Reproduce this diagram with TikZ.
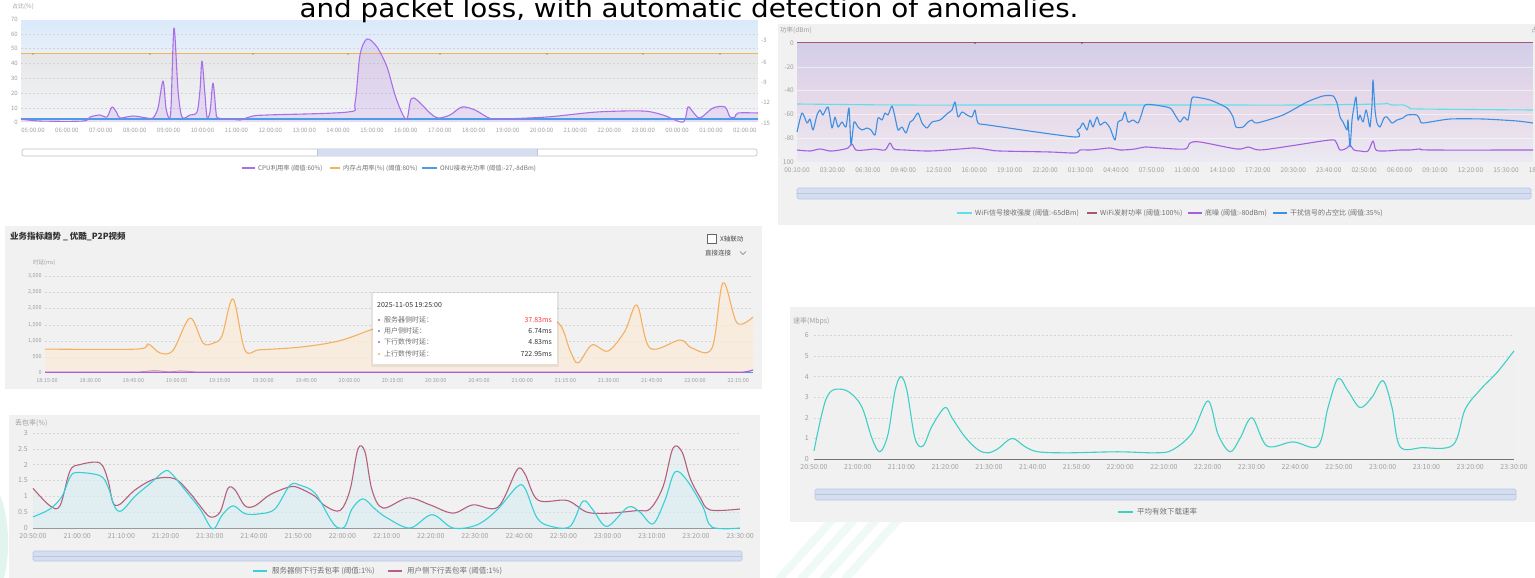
\documentclass[tikz,border=0pt]{standalone}
\usepackage{graphicx}
\usepackage{fontspec}
\setmainfont{Noto Sans CJK SC}
\newfontfamily\titlefont{DejaVu Sans}
\definecolor{axgray}{HTML}{A0A0A0}
\definecolor{leggray}{HTML}{707070}
\definecolor{panelbg}{HTML}{F1F1F1}
\definecolor{gridc}{HTML}{D4D4D4}
\definecolor{cpu}{HTML}{A96FE8}
\definecolor{mem}{HTML}{F2B25E}
\definecolor{onu}{HTML}{4B9DE6}
\definecolor{wcyan}{HTML}{5CE1EC}
\definecolor{wmaroon}{HTML}{A8566E}
\definecolor{wpurple}{HTML}{A35FE0}
\definecolor{wblue}{HTML}{3C8FE2}
\definecolor{lat}{HTML}{F4B062}
\definecolor{pcyan}{HTML}{39CFD8}
\definecolor{pmaroon}{HTML}{B5607F}
\definecolor{scyan}{HTML}{3ECFC5}
\definecolor{scroll}{HTML}{D5DEF1}
\definecolor{scrollb}{HTML}{B9C6E0}
\definecolor{mint}{HTML}{CDEFE3}
\definecolor{txtdark}{HTML}{333333}
\definecolor{bluetop}{HTML}{DAEAFA}
\definecolor{bluebot}{HTML}{E7EFF8}
\definecolor{graytop}{HTML}{E7E7E8}
\definecolor{graybot}{HTML}{F2F4F7}
\definecolor{lavtop}{HTML}{D3CEE9}
\definecolor{lavmid}{HTML}{E7D9E8}
\definecolor{lavbot}{HTML}{EBE9F2}
\begin{document}
\begin{tikzpicture}[x=1pt,y=-1pt,
  ax/.style={font=\fontsize{6}{7}\selectfont,text=axgray,inner sep=0pt},
  axm/.style={font=\fontsize{6.5}{7.5}\selectfont,text=axgray,inner sep=0pt},
  axb/.style={font=\fontsize{7}{8}\selectfont,text=axgray,inner sep=0pt},
  axs/.style={font=\fontsize{5.5}{6.5}\selectfont,text=axgray,inner sep=0pt},
  leg/.style={font=\fontsize{6.3}{7}\selectfont,text=leggray,inner sep=0pt,anchor=west},
  legb/.style={font=\fontsize{7}{8}\selectfont,text=leggray,inner sep=0pt,anchor=west},
  legc/.style={font=\fontsize{7.5}{8.5}\selectfont,text=leggray,inner sep=0pt,anchor=west},
  gridl/.style={draw=gridc,line width=0.4pt,dash pattern=on 2pt off 2pt},
  sbar/.style={draw=scrollb,fill=scroll,line width=0.6pt,rounded corners=1.5pt},
  curve/.style={line width=1.1pt,line join=round},
  tip/.style={font=\fontsize{7}{8}\selectfont,inner sep=0pt},
]
\useasboundingbox (0,0) rectangle (1535,578);
\fill[white] (0,0) rectangle (1535,578);

% ---------- watermark ----------
\fill[mint,opacity=0.6] (0,495) .. controls (10,520) and (10,555) .. (4,578) -- (0,578) -- cycle;
\foreach \dx in {0,22,44,66}
  \draw[mint,opacity=0.3,line width=8pt,line cap=round] ({780+\dx},578) -- ({850+\dx},500);

% ---------- panel 1 ----------
\foreach \i in {0,...,16}{
  \pgfmathsetmacro\p{100-\i*6.25}
  \fill[bluetop!\p!bluebot] (21,{20+\i*2}) rectangle (758,{22.4+\i*2});
}
\foreach \i in {0,...,16}{
  \pgfmathsetmacro\p{100-\i*6.25}
  \fill[graytop!\p!graybot] (21,{54+\i*4}) rectangle (758,{58.4+\i*4});
}
\foreach \yy in {34,48,63,78,93,108} \draw[gridl] (21,\yy) -- (758,\yy);
\node[ax,anchor=west] (p1lab) at (12,7) {占比(\%)};
\foreach \v/\yy [count=\i] in {70/19,60/34,50/48,40/63,30/78,20/93,10/108,0/122}
  \node[ax,anchor=east] (p1y\i) at (18,\yy) {\v};
\foreach \v/\yy [count=\i] in {-3/40,-6/62,-9/82,-12/102,-15/123}
  \node[ax,anchor=west] (p1r\i) at (761,\yy) {\v};
\foreach \t [count=\i from 0] in {05,06,07,08,09,10,11,12,13,14,15,16,17,18,19,20,21,22,23,00,01,02}
  \node[ax] (p1x\i) at ({33+33.9*\i},130) {\t:00:00};
\fill[cpu,opacity=0.18] plot[smooth,tension=0.5] coordinates {(21,119) (40,121) (83,121) (90,117) (100,115) (107,117) (112,107) (117,113) (120,118) (133,116) (147,118) (153,118) (158,108) (163,81) (166,108) (169,118) (171,108) (174,28) (178,90) (182,117) (190,115) (197,112) (200,90) (202,61) (205,95) (207,117) (210,112) (213,83) (216,112) (218,118) (233,119) (240,120) (253,116) (267,115) (348,112) (355,103) (360,55) (367,39) (377,47) (387,67) (395,95) (402,113) (407,119) (411,99) (417,100) (430,113) (438,118) (450,115) (462,107) (475,110) (487,117) (497,119) (547,117) (597,112) (643,111) (663,115) (683,122) (688,107) (693,112) (700,118) (713,108) (725,107) (730,117) (735,117) (738,113) (758,113)} -- (758,122) -- (21,122) -- cycle;
\draw[mem,line width=1pt] (21,54) -- (758,54);
\foreach \xx in {33,150,253,348,440,547,643,720} \fill[mem!80!black] (\xx,54) circle (0.8);
\draw[onu,line width=1.2pt] (21,119) -- (758,119);
\draw[cpu,curve] plot[smooth,tension=0.5] coordinates {(21,119) (40,121) (83,121) (90,117) (100,115) (107,117) (112,107) (117,113) (120,118) (133,116) (147,118) (153,118) (158,108) (163,81) (166,108) (169,118) (171,108) (174,28) (178,90) (182,117) (190,115) (197,112) (200,90) (202,61) (205,95) (207,117) (210,112) (213,83) (216,112) (218,118) (233,119) (240,120) (253,116) (267,115) (348,112) (355,103) (360,55) (367,39) (377,47) (387,67) (395,95) (402,113) (407,119) (411,99) (417,100) (430,113) (438,118) (450,115) (462,107) (475,110) (487,117) (497,119) (547,117) (597,112) (643,111) (663,115) (683,122) (688,107) (693,112) (700,118) (713,108) (725,107) (730,117) (735,117) (738,113) (758,113)};
\draw[draw=black!25,fill=white,rounded corners=2pt,line width=0.6pt] (22,149) rectangle (757,156);
\fill[scroll] (317,149.4) rectangle (537,155.6);
\draw[scrollb,line width=0.6pt] (317,149.4) -- (317,155.6) (537,149.4) -- (537,155.6);
\draw[cpu,line width=1.2pt] (242,168) -- (255,168);
\node[leg] (p1l1) at (258,168) {CPU利用率 (阈值:60\%)};
\draw[mem,line width=1.2pt] (330,168) -- (340,168);
\node[leg] (p1l2) at (343,168) {内存占用率(\%) (阈值:80\%)};
\draw[onu,line width=1.2pt] (422,168) -- (437,168);
\node[leg] (p1l3) at (440,168) {ONU接收光功率 (阈值:-27,-8dBm)};

% ---------- panel 2 ----------
\fill[panelbg] (778,24) rectangle (1535,225);
\foreach \i in {0,...,19}{
  \pgfmathsetmacro\p{100-\i*5.26}
  \fill[lavtop!\p!lavmid] (797,{43+\i*3.1}) rectangle (1533,{46.4+\i*3.1});
}
\foreach \i in {0,...,18}{
  \pgfmathsetmacro\p{100-\i*5.55}
  \fill[lavmid!\p!lavbot] (797,{105+\i*3}) rectangle (1533,{108.3+\i*3});
}
\foreach \yy in {67,90,114,138} \draw[white,opacity=0.5,line width=0.5pt] (797,\yy) -- (1533,\yy);
\node[axm,anchor=west] (p2lab) at (780,30) {功率(dBm)};
\node[axm,anchor=west] (p2rlab) at (1531,30) {占空比(\%)};
\foreach \v/\yy [count=\i] in {0/43,-20/67,-40/90,-60/114,-80/138,100/162}
  \node[axm,anchor=east] (p2y\i) at (794,\yy) {\v};
\foreach \t [count=\i from 0] in {00:10,03:20,06:30,09:40,12:50,16:00,19:10,22:20,01:30,04:40,07:50,11:00,14:10,17:20,20:30,23:40,02:50,06:00,09:10,12:20,15:30,18:40}
  \node[axm] (p2x\i) at ({797+35.45*\i},170) {\t:00};
\draw[wmaroon,line width=1pt] (797,43) -- (1533,43);
\foreach \xx in {975,1082} \fill[wmaroon!70!black] (\xx,43) circle (0.8);
\draw[wcyan,curve] plot[smooth,tension=0.5] coordinates {(797,104) (900,105) (1000,105) (1100,105) (1200,105) (1300,105) (1380,104) (1386,103) (1392,105) (1404,105) (1410,108) (1420,109) (1533,110)};
\draw[wpurple,curve] plot[smooth,tension=0.5] coordinates {(797,150) (810,151) (820,149) (830,151) (840,150) (848,148) (852,144) (856,150) (865,150) (875,149) (885,150) (890,143) (894,149) (905,150) (930,151) (960,149) (975,148) (990,150) (1000,151) (1050,152) (1075,153) (1080,150) (1090,150) (1100,149) (1110,148) (1120,150) (1135,149) (1145,147) (1160,148) (1185,149) (1190,143) (1200,142) (1237,149) (1248,147) (1260,150) (1290,146) (1330,140) (1336,142) (1340,150) (1347,148) (1350,145) (1354,150) (1360,151) (1368,151) (1373,141) (1376,150) (1385,151) (1400,150) (1410,150) (1420,149) (1430,150) (1533,150)};
\draw[wblue,curve] plot[smooth,tension=0.4] coordinates {(797,132) (802,113) (807,123) (810,119) (813,130) (817,115) (820,110) (823,115) (828,107) (832,128) (835,117) (838,127) (842,122) (846,127) (849,108) (851,145) (854,122) (858,127) (862,130) (867,128) (871,130) (875,135) (878,118) (882,120) (885,113) (888,115) (892,106) (895,117) (898,130) (902,127) (906,133) (910,122) (913,120) (918,113) (922,123) (927,128) (932,122) (940,120) (948,113) (952,110) (955,102) (958,117) (962,112) (967,115) (972,117) (975,110) (978,123) (988,125) (1075,137) (1077,130) (1080,128) (1083,123) (1087,130) (1090,120) (1093,127) (1097,117) (1100,125) (1105,122) (1110,128) (1115,140) (1118,122) (1122,120) (1125,112) (1128,122) (1133,120) (1138,123) (1141,116) (1145,105) (1155,105) (1170,108) (1175,115) (1180,122) (1184,117) (1188,120) (1191,103) (1193,97) (1210,100) (1227,108) (1233,117) (1236,127) (1243,127) (1248,122) (1252,120) (1257,123) (1283,115) (1307,102) (1323,96) (1333,96) (1337,103) (1340,117) (1343,122) (1347,130) (1348,120) (1350,147) (1352,120) (1354,107) (1356,97) (1358,120) (1360,115) (1363,122) (1366,110) (1368,118) (1370,127) (1372,105) (1373,80) (1375,110) (1377,123) (1380,127) (1384,118) (1387,117) (1392,123) (1397,120) (1403,118) (1407,115) (1417,115) (1420,120) (1423,123) (1450,119) (1483,119) (1517,121) (1533,123)};
\draw[sbar] (797,188) rectangle (1531,199);
\draw[scrollb,line width=0.4pt] (797,193.5) -- (1531,193.5);
\draw[wcyan,line width=1.2pt] (957,213) -- (972,213);
\node[legb] (p2l1) at (975,213) {WiFi信号接收强度 (阈值:-65dBm)};
\draw[wmaroon,line width=1.2pt] (1087,213) -- (1097,213);
\node[legb] (p2l2) at (1100,213) {WiFi发射功率 (阈值:100\%)};
\draw[wpurple,line width=1.2pt] (1188,213) -- (1202,213);
\node[legb] (p2l3) at (1205,213) {底噪 (阈值:-80dBm)};
\draw[wblue,line width=1.2pt] (1273,213) -- (1287,213);
\node[legb] (p2l4) at (1290,213) {干扰信号的占空比 (阈值:35\%)};

% ---------- panel 3 ----------
\fill[panelbg] (5,226) rectangle (762,389);
\node[font=\fontsize{8.5}{10}\selectfont\bfseries,text=txtdark,anchor=west,inner sep=0pt] (p3title) at (10,237) {业务指标趋势 \_ 优酷\_P2P视频};
\draw[black!60,fill=white,line width=0.6pt] (707,234) rectangle (716,243);
\node[font=\fontsize{6.5}{7.5}\selectfont,text=black!70,anchor=west,inner sep=0pt] (p3chk) at (720,239) {X轴联动};
\node[font=\fontsize{6.5}{7.5}\selectfont,text=black!70,anchor=west,inner sep=0pt] (p3conn) at (705,253) {直接连接};
\draw[black!55,line width=0.5pt] (740,251.5) -- (743,254.5) -- (746,251.5);
\node[axs,anchor=west] (p3lab) at (33,263) {时延(ms)};
\foreach \v/\yy [count=\i] in {{3,000}/276,{2,500}/292,{2,000}/308,{1,500}/325,{1,000}/341,500/357,0/373}
  \node[axs,anchor=east] (p3y\i) at (42,\yy) {\v};
\foreach \yy in {276,292,308,325,341,357} \draw[gridl] (45,\yy) -- (753,\yy);
\foreach \t [count=\i from 0] in {18:15,18:30,18:45,19:00,19:15,19:30,19:45,20:00,20:15,20:30,20:45,21:00,21:15,21:30,21:45,22:00,22:15}
  \node[axs] (p3x\i) at ({47+43.2*\i},381) {\t:00};
\begin{scope}[shift={(0,373)},y=0.03233pt]
\fill[lat!25!white,opacity=0.7] plot[smooth,tension=0.55] coordinates {(45,740) (137,740) (148,900) (160,620) (173,700) (190,1700) (203,930) (213,920) (222,1150) (233,2290) (245,710) (260,720) (300,800) (340,1000) (380,1420) (420,1600) (470,1750) (520,1650) (557,1580) (570,700) (578,310) (592,870) (608,680) (625,1300) (637,2100) (650,770) (680,1020) (692,770) (712,770) (723,2790) (737,1550) (753,1730)} -- (753,0) -- (45,0) -- cycle;
\draw[lat,curve] plot[smooth,tension=0.55] coordinates {(45,740) (137,740) (148,900) (160,620) (173,700) (190,1700) (203,930) (213,920) (222,1150) (233,2290) (245,710) (260,720) (300,800) (340,1000) (380,1420) (420,1600) (470,1750) (520,1650) (557,1580) (570,700) (578,310) (592,870) (608,680) (625,1300) (637,2100) (650,770) (680,1020) (692,770) (712,770) (723,2790) (737,1550) (753,1730)};
\end{scope}
\draw[pmaroon!60,line width=0.8pt] plot[smooth] coordinates {(140,372) (155,370.5) (170,372) (180,370.8) (195,372)};
\draw[onu,line width=1pt] (45,372.8) -- (753,372.8);
\draw[wpurple,line width=1.2pt] (45,372.3) -- (742,372.3) -- (748,371.5) -- (753,370);
% tooltip
\fill[black,opacity=0.06] (371,292) rectangle (559,367);
\fill[white] (373,293) rectangle (557,364);
\node[tip,text=txtdark,anchor=west] (tiphead) at (377,305) {2025-11-05 19:25:00};
\foreach \c/\lab/\val/\vc/\yy [count=\i] in {pmaroon/服务器侧时延：/37.83ms/red!70!pink/320,wblue/用户侧时延：/6.74ms/txtdark/331,wpurple/下行数传时延：/4.83ms/txtdark/342,lat/上行数传时延：/722.95ms/txtdark/354}{
  \fill[\c] (379,\yy) circle (1.2);
  \node[tip,text=black!55,anchor=west] (tipl\i) at (384,\yy) {\lab};
  \node[tip,text=\vc,anchor=east] (tipv\i) at (552,\yy) {\val};
}

% ---------- panel 4 ----------
\fill[panelbg] (9,415) rectangle (760,578);
\node[axb,anchor=west] (p4lab) at (15,423) {丢包率(\%)};
\foreach \v [count=\i from 0] in {0,0.5,1,1.5,2,2.5,3}
  \node[axb,anchor=east] (p4y\i) at (28,{528-31.7*\v}) {\v};
\foreach \v in {0.5,1,1.5,2,2.5,3} \draw[gridl] (33,{528-31.7*\v}) -- (740,{528-31.7*\v});
\foreach \t [count=\i from 0] in {20:50,21:00,21:10,21:20,21:30,21:40,21:50,22:00,22:10,22:20,22:30,22:40,22:50,23:00,23:10,23:20,23:30}
  \node[axb] (p4x\i) at ({33+44.2*\i},536) {\t:00};
\begin{scope}[shift={(0,528)},y=31.7pt]
\fill[black!30!cyan!15!white,opacity=0.45] plot[smooth,tension=0.55] coordinates {(33,1.25) (50,0.7) (60,0.7) (70,1.8) (80,2.0) (100,2.05) (108,1.5) (113,0.8) (120,0.75) (135,1.2) (155,1.55) (175,1.55) (190,1.1) (200,0.7) (210,0.35) (220,0.5) (228,1.25) (235,1.2) (245,0.7) (255,0.7) (270,1.05) (290,1.3) (300,1.25) (315,1.0) (325,0.7) (340,0.55) (350,1.2) (358,2.5) (365,2.4) (372,1.2) (383,0.63) (408,0.95) (430,0.73) (453,0.47) (473,0.73) (498,0.66) (517,1.83) (525,1.7) (538,0.88) (567,0.87) (587,0.5) (610,0.47) (637,0.55) (650,0.6) (663,1.3) (673,2.52) (682,2.4) (690,1.58) (700,0.97) (710,0.57) (740,0.6)} -- (740,0) -- (33,0) -- cycle;
\fill[black!30!cyan!15!white,opacity=0.45] plot[smooth,tension=0.55] coordinates {(33,0.35) (50,0.6) (62,1.0) (70,1.6) (77,1.75) (100,1.65) (108,1.3) (115,0.65) (122,0.55) (135,1.0) (150,1.4) (165,1.8) (172,1.7) (185,1.2) (200,0.6) (210,0.05) (215,0) (222,0.4) (233,0.7) (245,0.45) (260,0.45) (275,0.6) (290,1.35) (300,1.35) (315,1.1) (330,0.3) (337,0.02) (345,0.05) (352,0.6) (363,0.92) (375,0.6) (387,0.32) (410,0) (432,0.42) (453,0) (477,0.1) (497,0.57) (517,1.3) (525,1.25) (537,0.32) (550,0.06) (570,0.05) (583,0.85) (593,0.57) (607,0.05) (628,0.66) (640,0.5) (653,0.13) (665,0.88) (675,1.77) (687,1.5) (703,0.66) (712,0.03) (740,0)} -- (740,0) -- (33,0) -- cycle;
\draw[black!40,line width=0.6pt] (33,0) -- (740,0);
\draw[pmaroon,curve] plot[smooth,tension=0.55] coordinates {(33,1.25) (50,0.7) (60,0.7) (70,1.8) (80,2.0) (100,2.05) (108,1.5) (113,0.8) (120,0.75) (135,1.2) (155,1.55) (175,1.55) (190,1.1) (200,0.7) (210,0.35) (220,0.5) (228,1.25) (235,1.2) (245,0.7) (255,0.7) (270,1.05) (290,1.3) (300,1.25) (315,1.0) (325,0.7) (340,0.55) (350,1.2) (358,2.5) (365,2.4) (372,1.2) (383,0.63) (408,0.95) (430,0.73) (453,0.47) (473,0.73) (498,0.66) (517,1.83) (525,1.7) (538,0.88) (567,0.87) (587,0.5) (610,0.47) (637,0.55) (650,0.6) (663,1.3) (673,2.52) (682,2.4) (690,1.58) (700,0.97) (710,0.57) (740,0.6)};
\draw[pcyan,curve] plot[smooth,tension=0.55] coordinates {(33,0.35) (50,0.6) (62,1.0) (70,1.6) (77,1.75) (100,1.65) (108,1.3) (115,0.65) (122,0.55) (135,1.0) (150,1.4) (165,1.8) (172,1.7) (185,1.2) (200,0.6) (210,0.05) (215,0) (222,0.4) (233,0.7) (245,0.45) (260,0.45) (275,0.6) (290,1.35) (300,1.35) (315,1.1) (330,0.3) (337,0.02) (345,0.05) (352,0.6) (363,0.92) (375,0.6) (387,0.32) (410,0) (432,0.42) (453,0) (477,0.1) (497,0.57) (517,1.3) (525,1.25) (537,0.32) (550,0.06) (570,0.05) (583,0.85) (593,0.57) (607,0.05) (628,0.66) (640,0.5) (653,0.13) (665,0.88) (675,1.77) (687,1.5) (703,0.66) (712,0.03) (740,0)};
\end{scope}
\draw[sbar] (33,551) rectangle (742,561);
\draw[scrollb,line width=0.4pt] (33,556) -- (742,556);
\draw[pcyan,line width=1.2pt] (253,571) -- (267,571);
\node[legc] (p4l1) at (272,571) {服务器侧下行丢包率 (阈值:1\%)};
\draw[pmaroon,line width=1.2pt] (388,571) -- (402,571);
\node[legc] (p4l2) at (407,571) {用户侧下行丢包率 (阈值:1\%)};

% ---------- panel 5 ----------
\fill[panelbg] (790,307) rectangle (1535,522);
\node[axb,anchor=west] (p5lab) at (793,321) {速率(Mbps)};
\foreach \v [count=\i from 0] in {0,1,2,3,4,5,6}
  \node[axb,anchor=east] (p5y\i) at (809,{459-20.6*\v}) {\v};
\foreach \v in {1,2,3,4,5,6} \draw[gridl] (814,{459-20.6*\v}) -- (1514,{459-20.6*\v});
\foreach \t [count=\i from 0] in {20:50,21:00,21:10,21:20,21:30,21:40,21:50,22:00,22:10,22:20,22:30,22:40,22:50,23:00,23:10,23:20,23:30}
  \node[axb] (p5x\i) at ({814+43.75*\i},467) {\t:00};
\begin{scope}[shift={(0,459)},y=20.6pt]
\fill[black!6,opacity=0.9] plot[smooth,tension=0.55] coordinates {(814,0.4) (820,1.8) (826,2.9) (833,3.35) (845,3.35) (855,3.0) (863,2.4) (872,1.0) (880,0.35) (888,1.2) (895,3.3) (901,4.0) (907,3.3) (915,1.0) (923,0.63) (932,1.6) (945,2.5) (952,2.0) (965,1.07) (978,0.45) (988,0.3) (998,0.5) (1012,1.0) (1025,0.6) (1038,0.35) (1068,0.3) (1118,0.35) (1155,0.3) (1172,0.43) (1192,1.25) (1208,2.82) (1218,1.2) (1230,0.35) (1240,1.0) (1252,2.0) (1267,0.63) (1293,0.83) (1318,0.63) (1328,2.5) (1338,3.9) (1348,3.3) (1360,2.5) (1372,3.0) (1383,3.8) (1392,2.5) (1400,0.6) (1422,0.55) (1453,0.68) (1465,2.4) (1480,3.35) (1497,4.2) (1514,5.25)} -- (1514,0) -- (814,0) -- cycle;
\draw[black!55,line width=0.7pt] (814,0) -- (1514,0);
\draw[scyan,curve] plot[smooth,tension=0.55] coordinates {(814,0.4) (820,1.8) (826,2.9) (833,3.35) (845,3.35) (855,3.0) (863,2.4) (872,1.0) (880,0.35) (888,1.2) (895,3.3) (901,4.0) (907,3.3) (915,1.0) (923,0.63) (932,1.6) (945,2.5) (952,2.0) (965,1.07) (978,0.45) (988,0.3) (998,0.5) (1012,1.0) (1025,0.6) (1038,0.35) (1068,0.3) (1118,0.35) (1155,0.3) (1172,0.43) (1192,1.25) (1208,2.82) (1218,1.2) (1230,0.35) (1240,1.0) (1252,2.0) (1267,0.63) (1293,0.83) (1318,0.63) (1328,2.5) (1338,3.9) (1348,3.3) (1360,2.5) (1372,3.0) (1383,3.8) (1392,2.5) (1400,0.6) (1422,0.55) (1453,0.68) (1465,2.4) (1480,3.35) (1497,4.2) (1514,5.25)};
\end{scope}
\draw[sbar] (815,489) rectangle (1516,500);
\draw[scrollb,line width=0.4pt] (815,494.5) -- (1516,494.5);
\draw[scyan,line width=1.2pt] (1118,512) -- (1133,512);
\node[legc] (p5l1) at (1137,512) {平均有效下载速率};

% ---------- title ----------
\node[font=\titlefont\fontsize{25.5}{29}\selectfont,anchor=base,inner sep=0pt] (title) at (689,17.3) {\scalebox{1.09}[1]{and packet loss, with automatic detection of anomalies.}};
\end{tikzpicture}
\end{document}
